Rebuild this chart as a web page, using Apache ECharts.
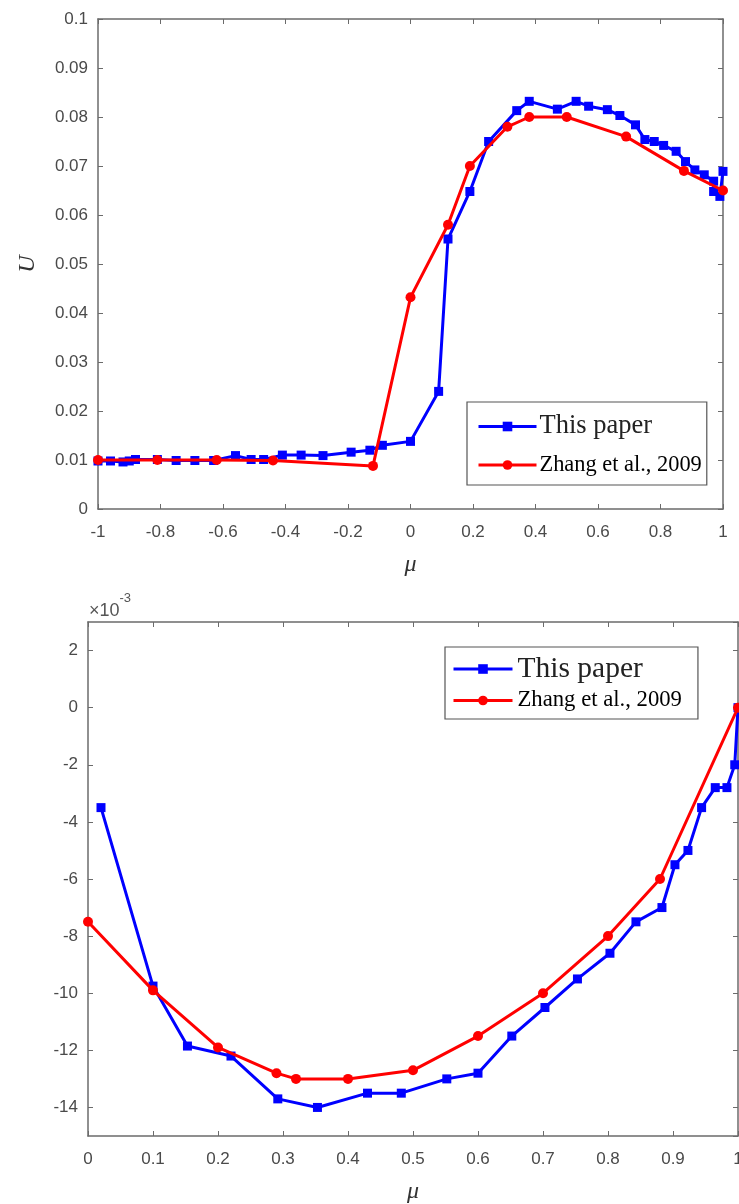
<!DOCTYPE html>
<html>
<head>
<meta charset="utf-8">
<script src="https://cdn.jsdelivr.net/npm/echarts@6/dist/echarts.min.js"></script>
<style>
  html, body { margin: 0; padding: 0; background: #ffffff; overflow: hidden; }
  #chart { width: 739px; height: 1204px; }
</style>
</head>
<body>
<div id="chart"></div>
<script>
// ---------- Data ----------
const seriesNames = ['This paper', 'Zhang et al., 2009'];

// Upper panel: U vs mu, mu in [-1, 1]
const topPaperMu = [-1, -0.96, -0.92, -0.9, -0.88, -0.81, -0.75, -0.69, -0.63, -0.56, -0.51, -0.47, -0.41, -0.35, -0.28, -0.19, -0.13, -0.09, 0.0, 0.09, 0.12, 0.19, 0.25, 0.34, 0.38, 0.47, 0.53, 0.57, 0.63, 0.67, 0.72, 0.75, 0.78, 0.81, 0.85, 0.88, 0.91, 0.94, 0.97, 0.97, 0.99, 1.0];
const topPaperU  = [0.0098, 0.0098, 0.0096, 0.0098, 0.0101, 0.0101, 0.0099, 0.0099, 0.0099, 0.0109, 0.0101, 0.0101, 0.011, 0.011, 0.0109, 0.0116, 0.012, 0.013, 0.0138, 0.024, 0.0551, 0.0648, 0.075, 0.0813, 0.0832, 0.0816, 0.0832, 0.0822, 0.0815, 0.0803, 0.0784, 0.0754, 0.075, 0.0742, 0.073, 0.0709, 0.0692, 0.0682, 0.0669, 0.0648, 0.0638, 0.0689];
const topZhangMu = [-1, -0.81, -0.62, -0.44, -0.12, 0.0, 0.12, 0.19, 0.31, 0.38, 0.5, 0.69, 0.875, 1.0];
const topZhangU  = [0.01, 0.01, 0.01, 0.0099, 0.0088, 0.0432, 0.058, 0.070, 0.078, 0.080, 0.080, 0.076, 0.069, 0.065];

// Lower panel: U (x10^-3) vs mu, mu in [0, 1]
const botPaperMu = [0.02, 0.1, 0.153, 0.22, 0.292, 0.353, 0.43, 0.482, 0.552, 0.6, 0.652, 0.703, 0.753, 0.803, 0.843, 0.883, 0.903, 0.923, 0.944, 0.965, 0.983, 0.995, 1.0];
const botPaperU  = [-3.5, -9.75, -11.85, -12.2, -13.7, -14.0, -13.5, -13.5, -13.0, -12.8, -11.5, -10.5, -9.5, -8.6, -7.5, -7.0, -5.5, -5.0, -3.5, -2.8, -2.8, -2.0, 0.0];
const botZhangMu = [0, 0.1, 0.2, 0.29, 0.32, 0.4, 0.5, 0.6, 0.7, 0.8, 0.88, 1.0];
const botZhangU  = [-7.5, -9.9, -11.9, -12.8, -13.0, -13.0, -12.7, -11.5, -10.0, -8.0, -6.0, 0.0];

// Axis settings
const topXRange = [-1, 1], topXStep = 0.2;
const topYRange = [0, 0.1], topYStep = 0.01;
const botXRange = [0, 1], botXStep = 0.1;
const botYRange = [-15, 3], botYSplits = 9;
const xName = 'μ', yName = 'U';
const scaleLabel = ['×10', '-3'];

// ---------- Styles ----------
const BLUE = '#0000ff', RED = '#ff0000';
const AXIS = '#6b6b6b', LABEL = '#4a4a4a';
const tickFont = { fontFamily: 'Liberation Sans, Arial, sans-serif', fontSize: 17, color: LABEL };
const nameFont = { fontFamily: 'Liberation Serif, Times New Roman, serif', fontStyle: 'italic', fontSize: 24, color: '#333' };
const serif = 'Liberation Serif, Times New Roman, serif';

function zip(a, b) { return a.map((v, i) => [v, b[i]]); }

function mainX(range, step, gridIndex) {
  return {
    type: 'value', gridIndex, position: 'bottom', min: range[0], max: range[1], interval: step,
    axisLine: { show: true, onZero: false, lineStyle: { color: AXIS, width: 1.5 } },
    axisTick: { show: true, inside: true, length: 5, lineStyle: { color: AXIS } },
    axisLabel: Object.assign({ margin: 15 }, tickFont),
    splitLine: { show: false },
    name: xName, nameLocation: 'middle', nameGap: 44, nameTextStyle: nameFont
  };
}
function boxX(range, step, gridIndex) {
  return {
    type: 'value', gridIndex, position: 'top', min: range[0], max: range[1], interval: step,
    axisLine: { show: true, onZero: false, lineStyle: { color: AXIS, width: 1.5 } },
    axisTick: { show: true, inside: true, length: 5, lineStyle: { color: AXIS } },
    axisLabel: { show: false }, splitLine: { show: false }
  };
}
function legendFormatter(n) { return n === seriesNames[0] ? '{a|' + n + '}' : '{b|' + n + '}'; }

const option = {
  animation: false,
  backgroundColor: '#ffffff',
  grid: [
    { left: 98, top: 19, width: 625, height: 490, outerBoundsMode: 'none', containLabel: false },
    { left: 88, top: 622, width: 650, height: 514, outerBoundsMode: 'none', containLabel: false }
  ],
  xAxis: [
    mainX(topXRange, topXStep, 0),
    boxX(topXRange, topXStep, 0),
    mainX(botXRange, botXStep, 1),
    boxX(botXRange, botXStep, 1)
  ],
  yAxis: [
    {
      type: 'value', gridIndex: 0, position: 'left', min: topYRange[0], max: topYRange[1], interval: topYStep,
      axisLine: { show: true, onZero: false, lineStyle: { color: AXIS, width: 1.5 } },
      axisTick: { show: true, inside: true, length: 5, lineStyle: { color: AXIS } },
      axisLabel: Object.assign({ margin: 10 }, tickFont),
      splitLine: { show: false },
      name: yName, nameLocation: 'middle', nameGap: 58, nameTextStyle: nameFont
    },
    {
      type: 'value', gridIndex: 0, position: 'right', min: topYRange[0], max: topYRange[1], interval: topYStep,
      axisLine: { show: true, onZero: false, lineStyle: { color: AXIS, width: 1.5 } },
      axisTick: { show: true, inside: true, length: 5, lineStyle: { color: AXIS } },
      axisLabel: { show: false }, splitLine: { show: false }
    },
    {
      type: 'value', gridIndex: 1, position: 'left', min: botYRange[0], max: botYRange[1], splitNumber: botYSplits,
      axisLine: { show: true, onZero: false, lineStyle: { color: AXIS, width: 1.5 } },
      axisTick: { show: true, inside: true, length: 5, lineStyle: { color: AXIS } },
      axisLabel: Object.assign({ margin: 10, showMinLabel: false, showMaxLabel: false }, tickFont),
      splitLine: { show: false },
      name: '{a|' + scaleLabel[0] + '}{b|' + scaleLabel[1] + '}',
      nameLocation: 'end', nameGap: 2,
      nameTextStyle: {
        align: 'left', verticalAlign: 'bottom', padding: [0, 0, 0, 1],
        rich: {
          a: { fontFamily: 'Liberation Sans, Arial, sans-serif', fontSize: 18, color: '#555', lineHeight: 28, verticalAlign: 'bottom' },
          b: { fontFamily: 'Liberation Sans, Arial, sans-serif', fontSize: 13, color: '#555', lineHeight: 28, verticalAlign: 'top' }
        }
      }
    },
    {
      type: 'value', gridIndex: 1, position: 'right', min: botYRange[0], max: botYRange[1], splitNumber: botYSplits,
      axisLine: { show: true, onZero: false, lineStyle: { color: AXIS, width: 1.5 } },
      axisTick: { show: true, inside: true, length: 5, lineStyle: { color: AXIS } },
      axisLabel: { show: false }, splitLine: { show: false }
    }
  ],
  legend: [
    {
      data: seriesNames, orient: 'vertical', left: 467, top: 402,
      padding: [11, 5, 9, 10], itemGap: 14, itemWidth: 58, itemHeight: 12,
      backgroundColor: '#ffffff', borderColor: '#555', borderWidth: 1.2,
      selectedMode: false, lineStyle: { width: 3 },
      formatter: legendFormatter,
      textStyle: {
        padding: [0, 0, 0, -2],
        rich: {
          a: { fontFamily: serif, fontSize: 26.5, color: '#222' },
          b: { fontFamily: serif, fontSize: 22.4, color: '#000' }
        }
      }
    },
    {
      data: seriesNames, orient: 'vertical', left: 445, top: 647,
      padding: [7, 16, 7, 7], itemGap: 5, itemWidth: 59, itemHeight: 12,
      backgroundColor: '#ffffff', borderColor: '#555', borderWidth: 1.2,
      selectedMode: false, lineStyle: { width: 3 },
      formatter: legendFormatter,
      textStyle: {
        padding: [0, 0, 0, 0],
        rich: {
          a: { fontFamily: serif, fontSize: 29.5, color: '#222' },
          b: { fontFamily: serif, fontSize: 22.7, color: '#000' }
        }
      }
    }
  ],
  series: [
    {
      name: seriesNames[0], type: 'line', xAxisIndex: 0, yAxisIndex: 0,
      data: zip(topPaperMu, topPaperU), symbol: 'rect', symbolSize: 9,
      lineStyle: { color: BLUE, width: 3 }, itemStyle: { color: BLUE }, z: 3
    },
    {
      name: seriesNames[1], type: 'line', xAxisIndex: 0, yAxisIndex: 0,
      data: zip(topZhangMu, topZhangU), symbol: 'circle', symbolSize: 10,
      lineStyle: { color: RED, width: 3 }, itemStyle: { color: RED }, z: 4
    },
    {
      name: seriesNames[0], type: 'line', xAxisIndex: 2, yAxisIndex: 2,
      data: zip(botPaperMu, botPaperU), symbol: 'rect', symbolSize: 9,
      lineStyle: { color: BLUE, width: 3 }, itemStyle: { color: BLUE }, z: 3, clip: false
    },
    {
      name: seriesNames[1], type: 'line', xAxisIndex: 2, yAxisIndex: 2,
      data: zip(botZhangMu, botZhangU), symbol: 'circle', symbolSize: 10,
      lineStyle: { color: RED, width: 3 }, itemStyle: { color: RED }, z: 4, clip: false
    }
  ]
};

const chart = echarts.init(document.getElementById('chart'), null, { renderer: 'canvas' });
chart.setOption(option);
</script>
</body>
</html>
